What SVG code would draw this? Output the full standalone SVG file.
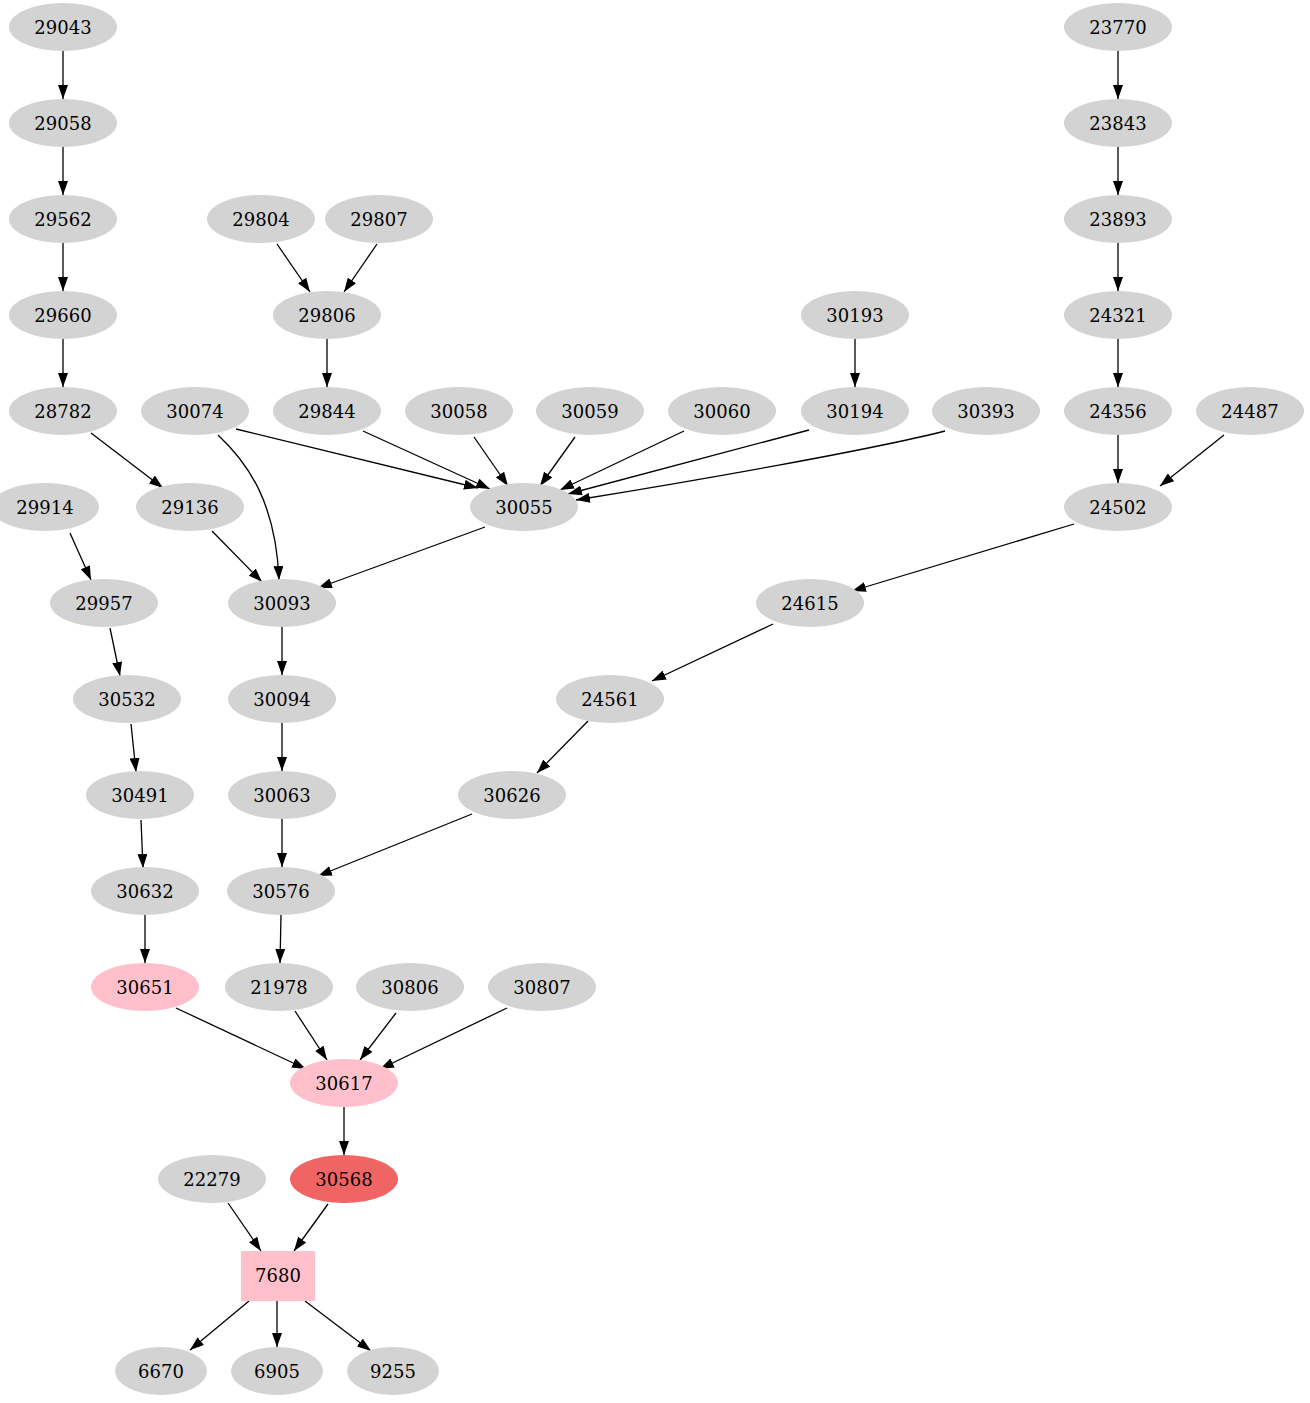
<svg xmlns="http://www.w3.org/2000/svg" width="1310" height="1403" viewBox="0 0 1310 1403">
<style>
.n ellipse{fill:#d3d3d3}
.p ellipse,.p rect{fill:#ffc0cb}
.r ellipse{fill:#f06464}
text{font-family:"DejaVu Serif","Liberation Serif",serif;font-size:18px;text-anchor:middle;fill:#000}
.e path{fill:none;stroke:#000;stroke-width:1.3;marker-end:url(#a)}
</style>
<defs>
<marker id="a" markerUnits="userSpaceOnUse" markerWidth="14" markerHeight="10" viewBox="0 0 14 10" refX="14" refY="5" orient="auto">
<path d="M0,0L14,5L0,10z" fill="#000"/>
</marker>
</defs>
<rect width="1310" height="1403" fill="#fff"/>
<g class="e" id="edges">
<path d="M63,51L63,99"/>
<path d="M63,147L63,195"/>
<path d="M63,243L63,291"/>
<path d="M63,339L63,387"/>
<path d="M91,433L163,488"/>
<path d="M277,244L310,292"/>
<path d="M377,244L344,292"/>
<path d="M327,339L327,387"/>
<path d="M855,339L855,387"/>
<path d="M1118,51L1118,99"/>
<path d="M1118,147L1118,195"/>
<path d="M1118,243L1118,291"/>
<path d="M1118,339L1118,387"/>
<path d="M1118,435L1118,483"/>
<path d="M1224,435L1160,486"/>
<path d="M236,429L478,488"/>
<path d="M218,435C250,465 276,505 279,580"/>
<path d="M363,431L490,489"/>
<path d="M474,437L508,486"/>
<path d="M575,437L540,486"/>
<path d="M684,431L560,490"/>
<path d="M809,430L568,494"/>
<path d="M945,431C870,450 700,480 576,500"/>
<path d="M212,531L262,582"/>
<path d="M485,527L318,588"/>
<path d="M70,533L91,580"/>
<path d="M110,628L120,676"/>
<path d="M131,724L136,772"/>
<path d="M141,820L143,868"/>
<path d="M145,915L145,963"/>
<path d="M282,627L282,675"/>
<path d="M282,723L282,771"/>
<path d="M282,819L282,867"/>
<path d="M1074,524L852,591"/>
<path d="M773,624L652,681"/>
<path d="M588,721L537,773"/>
<path d="M472,814L318,876"/>
<path d="M281,915L280,963"/>
<path d="M176,1008L306,1069"/>
<path d="M295,1011L327,1060"/>
<path d="M396,1013L360,1060"/>
<path d="M507,1008L380,1069"/>
<path d="M344,1107L344,1155"/>
<path d="M228,1203L261,1251"/>
<path d="M328,1204L294,1251"/>
<path d="M249,1301L190,1350"/>
<path d="M277,1301L277,1347"/>
<path d="M305,1301L371,1351"/>
</g>
<g id="n29043" class="n"><ellipse cx="63" cy="27" rx="54" ry="24"/><text x="63" y="34">29043</text></g>
<g id="n23770" class="n"><ellipse cx="1118" cy="27" rx="54" ry="24"/><text x="1118" y="34">23770</text></g>
<g id="n29058" class="n"><ellipse cx="63" cy="123" rx="54" ry="24"/><text x="63" y="130">29058</text></g>
<g id="n23843" class="n"><ellipse cx="1118" cy="123" rx="54" ry="24"/><text x="1118" y="130">23843</text></g>
<g id="n29562" class="n"><ellipse cx="63" cy="219" rx="54" ry="24"/><text x="63" y="226">29562</text></g>
<g id="n29804" class="n"><ellipse cx="261" cy="219" rx="54" ry="24"/><text x="261" y="226">29804</text></g>
<g id="n29807" class="n"><ellipse cx="379" cy="219" rx="54" ry="24"/><text x="379" y="226">29807</text></g>
<g id="n23893" class="n"><ellipse cx="1118" cy="219" rx="54" ry="24"/><text x="1118" y="226">23893</text></g>
<g id="n29660" class="n"><ellipse cx="63" cy="315" rx="54" ry="24"/><text x="63" y="322">29660</text></g>
<g id="n29806" class="n"><ellipse cx="327" cy="315" rx="54" ry="24"/><text x="327" y="322">29806</text></g>
<g id="n30193" class="n"><ellipse cx="855" cy="315" rx="54" ry="24"/><text x="855" y="322">30193</text></g>
<g id="n24321" class="n"><ellipse cx="1118" cy="315" rx="54" ry="24"/><text x="1118" y="322">24321</text></g>
<g id="n28782" class="n"><ellipse cx="63" cy="411" rx="54" ry="24"/><text x="63" y="418">28782</text></g>
<g id="n30074" class="n"><ellipse cx="195" cy="411" rx="54" ry="24"/><text x="195" y="418">30074</text></g>
<g id="n29844" class="n"><ellipse cx="327" cy="411" rx="54" ry="24"/><text x="327" y="418">29844</text></g>
<g id="n30058" class="n"><ellipse cx="459" cy="411" rx="54" ry="24"/><text x="459" y="418">30058</text></g>
<g id="n30059" class="n"><ellipse cx="590" cy="411" rx="54" ry="24"/><text x="590" y="418">30059</text></g>
<g id="n30060" class="n"><ellipse cx="722" cy="411" rx="54" ry="24"/><text x="722" y="418">30060</text></g>
<g id="n30194" class="n"><ellipse cx="855" cy="411" rx="54" ry="24"/><text x="855" y="418">30194</text></g>
<g id="n30393" class="n"><ellipse cx="986" cy="411" rx="54" ry="24"/><text x="986" y="418">30393</text></g>
<g id="n24356" class="n"><ellipse cx="1118" cy="411" rx="54" ry="24"/><text x="1118" y="418">24356</text></g>
<g id="n24487" class="n"><ellipse cx="1250" cy="411" rx="54" ry="24"/><text x="1250" y="418">24487</text></g>
<g id="n29914" class="n"><ellipse cx="45" cy="507" rx="54" ry="24"/><text x="45" y="514">29914</text></g>
<g id="n29136" class="n"><ellipse cx="190" cy="507" rx="54" ry="24"/><text x="190" y="514">29136</text></g>
<g id="n30055" class="n"><ellipse cx="524" cy="507" rx="54" ry="24"/><text x="524" y="514">30055</text></g>
<g id="n24502" class="n"><ellipse cx="1118" cy="507" rx="54" ry="24"/><text x="1118" y="514">24502</text></g>
<g id="n29957" class="n"><ellipse cx="104" cy="603" rx="54" ry="24"/><text x="104" y="610">29957</text></g>
<g id="n30093" class="n"><ellipse cx="282" cy="603" rx="54" ry="24"/><text x="282" y="610">30093</text></g>
<g id="n24615" class="n"><ellipse cx="810" cy="603" rx="54" ry="24"/><text x="810" y="610">24615</text></g>
<g id="n30532" class="n"><ellipse cx="127" cy="699" rx="54" ry="24"/><text x="127" y="706">30532</text></g>
<g id="n30094" class="n"><ellipse cx="282" cy="699" rx="54" ry="24"/><text x="282" y="706">30094</text></g>
<g id="n24561" class="n"><ellipse cx="610" cy="699" rx="54" ry="24"/><text x="610" y="706">24561</text></g>
<g id="n30491" class="n"><ellipse cx="140" cy="795" rx="54" ry="24"/><text x="140" y="802">30491</text></g>
<g id="n30063" class="n"><ellipse cx="282" cy="795" rx="54" ry="24"/><text x="282" y="802">30063</text></g>
<g id="n30626" class="n"><ellipse cx="512" cy="795" rx="54" ry="24"/><text x="512" y="802">30626</text></g>
<g id="n30632" class="n"><ellipse cx="145" cy="891" rx="54" ry="24"/><text x="145" y="898">30632</text></g>
<g id="n30576" class="n"><ellipse cx="281" cy="891" rx="54" ry="24"/><text x="281" y="898">30576</text></g>
<g id="n30651" class="p"><ellipse cx="145" cy="987" rx="54" ry="24"/><text x="145" y="994">30651</text></g>
<g id="n21978" class="n"><ellipse cx="279" cy="987" rx="54" ry="24"/><text x="279" y="994">21978</text></g>
<g id="n30806" class="n"><ellipse cx="410" cy="987" rx="54" ry="24"/><text x="410" y="994">30806</text></g>
<g id="n30807" class="n"><ellipse cx="542" cy="987" rx="54" ry="24"/><text x="542" y="994">30807</text></g>
<g id="n30617" class="p"><ellipse cx="344" cy="1083" rx="54" ry="24"/><text x="344" y="1090">30617</text></g>
<g id="n22279" class="n"><ellipse cx="212" cy="1179" rx="54" ry="24"/><text x="212" y="1186">22279</text></g>
<g id="n30568" class="r"><ellipse cx="344" cy="1179" rx="54" ry="24"/><text x="344" y="1186">30568</text></g>
<g id="n7680" class="p"><rect x="241" y="1251" width="74" height="50"/><text x="278" y="1282">7680</text></g>
<g id="n6670" class="n"><ellipse cx="161" cy="1371" rx="46" ry="24"/><text x="161" y="1378">6670</text></g>
<g id="n6905" class="n"><ellipse cx="277" cy="1371" rx="46" ry="24"/><text x="277" y="1378">6905</text></g>
<g id="n9255" class="n"><ellipse cx="393" cy="1371" rx="46" ry="24"/><text x="393" y="1378">9255</text></g>
</svg>
